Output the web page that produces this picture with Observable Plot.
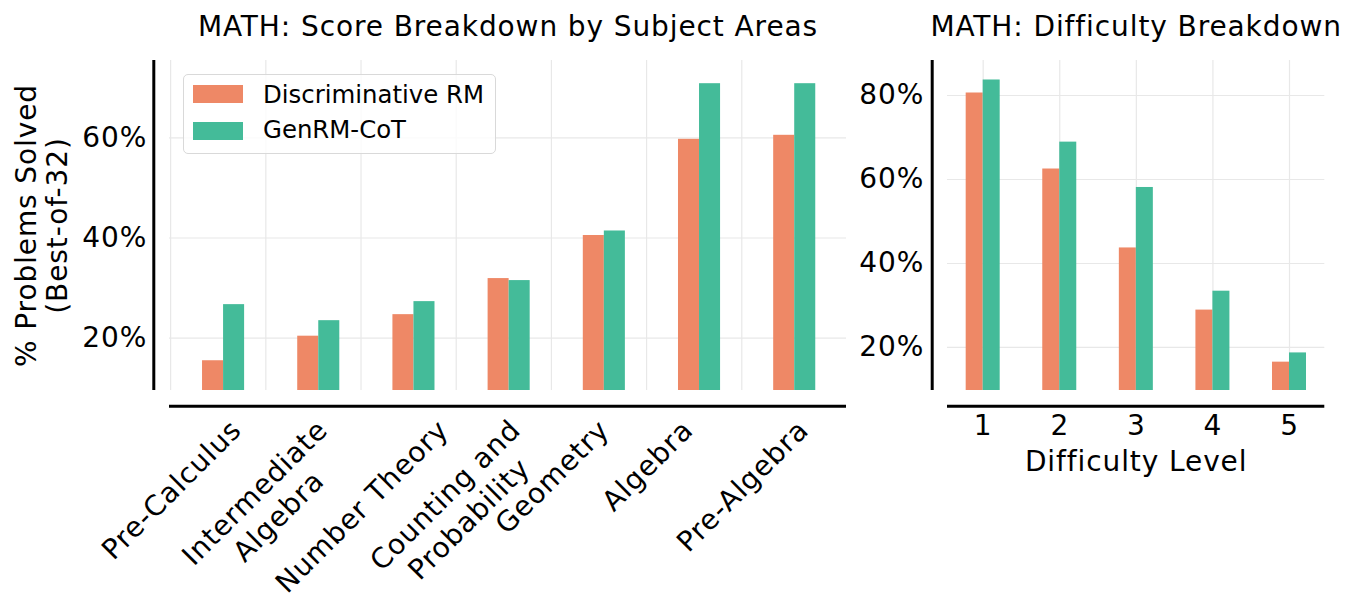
<!DOCTYPE html>
<html>
<head>
<meta charset="utf-8">
<script src="https://cdn.jsdelivr.net/npm/d3@7"></script>
<script src="https://cdn.jsdelivr.net/npm/@observablehq/plot@0.6"></script>
<style>
  body { margin: 0; background: #fff; }
  #wrap { position: relative; width: 1352px; height: 603px; overflow: hidden; font-family: "DejaVu Sans", sans-serif; background: #fff; }
  #wrap svg { position: absolute; top: 0; }
  .legend-box { position: absolute; left: 183px; top: 74px; width: 313px; height: 80px; box-sizing: border-box; border: 1.3px solid #d9d9d9; border-radius: 5px; background: rgba(255,255,255,0.8); }
  .sw { position: absolute; left: 193px; width: 50px; height: 18px; }
  .lt { position: absolute; left: 263px; font-size: 24.4px; line-height: 1; white-space: nowrap; color: #000; }
</style>
</head>
<body>
<div id="wrap"></div>
<script>
// ---------------- data ----------------
const subjects = ["Pre-Calculus", "Intermediate\nAlgebra", "Number Theory", "Counting and\nProbability", "Geometry", "Algebra", "Pre-Algebra"];
const discSubject = [15.5, 20.4, 24.7, 31.9, 40.5, 59.7, 60.5];
const genSubject  = [26.7, 23.5, 27.3, 31.5, 41.4, 70.8, 70.8];

const levels = [1, 2, 3, 4, 5];
const discLevel = [80.6, 62.5, 43.7, 28.9, 16.5];
const genLevel  = [83.7, 68.9, 58.1, 33.4, 18.7];

const series = ["Discriminative RM", "GenRM-CoT"];
const colors = ["#EE8866", "#44BB99"];

const leftTitle = "MATH: Score Breakdown by Subject Areas";
const rightTitle = "MATH: Difficulty Breakdown";
const yLabelLines = ["% Problems Solved", "(Best-of-32)"];
const xLabelRight = "Difficulty Level";
const leftYTicks = [20, 40, 60];
const rightYTicks = [20, 40, 60, 80];

// ---------------- helpers ----------------
const FS = 28;
const LS = 0.9; // letter spacing (px) to mimic matplotlib's hinted glyph advance
const FONT = "DejaVu Sans";
const pct = d => d + "%";

const ctx = document.createElement("canvas").getContext("2d");
ctx.font = `${FS}px "${FONT}"`;
const measure = s => ctx.measureText(s).width + s.length * LS;

const wrap = document.getElementById("wrap");
const svgStyle = {fontFamily: FONT, fontSize: FS + "px", letterSpacing: LS + "px", color: "black", background: "transparent", overflow: "visible"};

// ---------------- left chart ----------------
const L = {width: 860, height: 603, mt: 60, mb: 213, ml: 169, mr: 14};
const leftX = [-0.012, 7.1];
const leftY = [9.56, 75.43];
const barW = 0.221, barOff = 0.335;

const leftTable = subjects.flatMap((s, i) => [
  {i, series: series[0], v: discSubject[i], x1: i + barOff, x2: i + barOff + barW},
  {i, series: series[1], v: genSubject[i],  x1: i + barOff + barW, x2: i + barOff + 2 * barW}
]);

const labelTop = 412;
const tickLabelMarks = subjects.map((s, i) => {
  const lines = s.split("\n");
  const w = Math.max(...lines.map(measure));
  const h = (lines.length - 1) * 1.2 * FS + 1.164 * FS;
  const half = (w + h) / (2 * Math.SQRT2);
  const cy = labelTop + half;
  return Plot.text([i], {
    x: d => d, text: () => s, frameAnchor: "bottom", dy: cy - (L.height - L.mb),
    rotate: -45, textAnchor: "middle", lineAnchor: "middle", lineHeight: 1.2,
    fontSize: FS, fill: "black"
  });
});

const leftPlot = Plot.plot({
  width: L.width, height: L.height,
  marginTop: L.mt, marginBottom: L.mb, marginLeft: L.ml, marginRight: L.mr,
  style: svgStyle,
  x: {type: "linear", domain: leftX, axis: null},
  y: {type: "linear", domain: leftY, axis: null},
  color: {domain: series, range: colors},
  marks: [
    Plot.gridY(leftYTicks, {stroke: "#e8e8e8", strokeOpacity: 1, strokeWidth: 1.2}),
    Plot.gridX(d3.range(subjects.length), {stroke: "#e8e8e8", strokeOpacity: 1, strokeWidth: 1.2}),
    Plot.rect(leftTable, {x1: "x1", x2: "x2", y1: () => leftY[0], y2: "v", fill: "series"}),
    Plot.ruleX([leftX[0]], {dx: -15.7, stroke: "black", strokeWidth: 3}),
    Plot.ruleY([leftY[0]], {dy: 15.8, stroke: "black", strokeWidth: 3}),
    Plot.axisY({ticks: leftYTicks, tickFormat: pct, tickSize: 0, tickPadding: 22.2, fontSize: FS, label: null}),
    ...tickLabelMarks,
    Plot.text([leftTitle], {text: d => d, frameAnchor: "top", dy: 35 - L.mt, lineAnchor: "bottom", fontSize: FS, fill: "black"}),
    Plot.text([yLabelLines[0]], {text: d => d, frameAnchor: "left", dx: 35 - L.ml, rotate: -90, lineAnchor: "bottom", textAnchor: "middle", fontSize: FS, fill: "black"}),
    Plot.text([yLabelLines[1]], {text: d => d, frameAnchor: "left", dx: 66.4 - L.ml, rotate: -90, lineAnchor: "bottom", textAnchor: "middle", fontSize: FS, fill: "black"})
  ]
});
leftPlot.style.left = "0px";
wrap.appendChild(leftPlot);

// ---------------- right chart ----------------
const R = {left: 860, width: 492, mt: 60, mb: 213, ml: 87, mr: 27.7};
const rightX = [0.534, 5.461];
const rightY = [9.75, 88.34];
const rw = 0.222;

const rightTable = levels.flatMap((l, i) => [
  {l, series: series[0], v: discLevel[i], x1: l - rw, x2: l},
  {l, series: series[1], v: genLevel[i],  x1: l, x2: l + rw}
]);

const rightPlot = Plot.plot({
  width: R.width, height: 603,
  marginTop: R.mt, marginBottom: R.mb, marginLeft: R.ml, marginRight: R.mr,
  style: svgStyle,
  x: {type: "linear", domain: rightX},
  y: {type: "linear", domain: rightY},
  color: {domain: series, range: colors},
  marks: [
    Plot.gridY(rightYTicks, {stroke: "#e8e8e8", strokeOpacity: 1, strokeWidth: 1.2}),
    Plot.gridX(levels, {stroke: "#e8e8e8", strokeOpacity: 1, strokeWidth: 1.2}),
    Plot.rect(rightTable, {x1: "x1", x2: "x2", y1: () => rightY[0], y2: "v", fill: "series"}),
    Plot.ruleX([rightX[0]], {dx: -15.3, stroke: "black", strokeWidth: 3}),
    Plot.ruleY([rightY[0]], {dy: 15.8, stroke: "black", strokeWidth: 3}),
    Plot.axisY({ticks: rightYTicks, tickFormat: pct, tickSize: 0, tickPadding: 23.2, fontSize: FS, label: null}),
    Plot.axisX({ticks: levels, tickFormat: d => String(d), tickSize: 0, tickPadding: 25, fontSize: FS, label: null}),
    Plot.text([xLabelRight], {text: d => d, frameAnchor: "bottom", dy: 470.7 - (603 - R.mb), lineAnchor: "bottom", fontSize: FS, fill: "black"}),
    Plot.text([rightTitle], {text: d => d, frameAnchor: "top", dy: 35 - R.mt, lineAnchor: "bottom", fontSize: FS, fill: "black"})
  ]
});
rightPlot.style.left = R.left + "px";
wrap.appendChild(rightPlot);

// ---------------- legend ----------------
const box = document.createElement("div");
box.className = "legend-box";
wrap.appendChild(box);
const swTops = [85, 121.7];
const txtTops = [103.3 - 0.846 * 24.4, 139 - 0.846 * 24.4];
series.forEach((s, k) => {
  const sw = document.createElement("div");
  sw.className = "sw";
  sw.style.top = swTops[k] + "px";
  sw.style.background = colors[k];
  wrap.appendChild(sw);
  const t = document.createElement("div");
  t.className = "lt";
  t.style.top = txtTops[k] + "px";
  t.textContent = s;
  wrap.appendChild(t);
});
</script>
</body>
</html>
